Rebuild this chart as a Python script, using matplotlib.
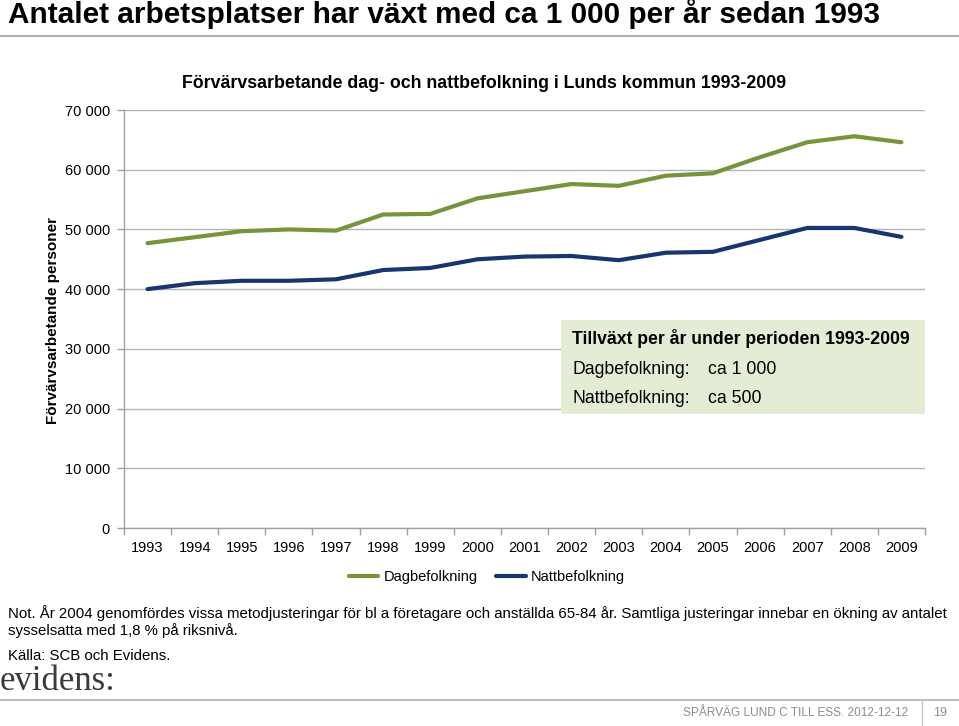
import matplotlib
matplotlib.use("Agg")
import matplotlib.pyplot as plt
import numpy as np
from matplotlib.patches import Rectangle
from matplotlib.lines import Line2D

plt.rcParams['font.family'] = ['Liberation Sans', 'DejaVu Sans']

years = [str(y) for y in range(1993, 2010)]
dagbefolkning = [47700, 48700, 49700, 50000, 49800, 52500, 52600, 55200, 56400, 57600,
                 57300, 59000, 59400, 62100, 64600, 65600, 64600]
nattbefolkning = [40000, 41000, 41400, 41400, 41650, 43200, 43550, 45000, 45450, 45550,
                  44850, 46100, 46250, 48250, 50250, 50250, 48750]
yticks = [0, 10000, 20000, 30000, 40000, 50000, 60000, 70000]

W, H = 959, 726
fig = plt.figure(figsize=(W / 100, H / 100), dpi=100)


def fx(px):
    return px / W


def fy(py):
    return 1 - py / H


# slide header
fig.text(fx(8), fy(14), "Antalet arbetsplatser har växt med ca 1 000 per år sedan 1993",
         fontsize=21.4, fontweight='bold', va='center', ha='left')
fig.add_artist(Line2D([0, 1], [fy(36), fy(36)], color='#b0b0b0', lw=1.5))

ax = fig.add_axes([fx(124), fy(528), fx(925 - 124), fy(110) - fy(528)])
x = np.arange(len(years))
ax.plot(x, dagbefolkning, color='#77933C', lw=3, solid_capstyle='round', label='Dagbefolkning')
ax.plot(x, nattbefolkning, color='#16366F', lw=3, solid_capstyle='round', label='Nattbefolkning')

ax.set_xlim(-0.5, len(years) - 0.5)
ax.set_ylim(0, 70000)
ax.set_yticks(yticks)
ax.set_yticklabels([f"{v:,}".replace(",", " ") for v in yticks], fontsize=10.5)
ax.set_xticks(x)
ax.set_xticklabels(years, fontsize=10.5)
ax.set_xticks(np.arange(-0.5, len(years)), minor=True)
ax.tick_params(axis='x', which='major', length=0, pad=9)
ax.tick_params(axis='x', which='minor', length=5, color='#a0a0a0', width=1)
ax.tick_params(axis='y', length=5, color='#a0a0a0', width=1, pad=5)
ax.grid(axis='y', color='#b4b4b4', lw=1)
ax.set_axisbelow(True)
for s in ['top', 'right']:
    ax.spines[s].set_visible(False)
for s in ['left', 'bottom']:
    ax.spines[s].set_color('#a0a0a0')
    ax.spines[s].set_linewidth(1)

ax.set_title("Förvärvsarbetande dag- och nattbefolkning i Lunds kommun 1993-2009",
             fontsize=12.8, fontweight='bold', pad=15.5, x=0.449)
fig.text(fx(53), fy(320), "Förvärvsarbetande personer", rotation=90, fontsize=11,
         fontweight='bold', ha='center', va='center')

# annotation box
fig.add_artist(Rectangle((fx(561), fy(414)), fx(925 - 561), fy(320) - fy(414),
                         facecolor='#E3EDD5', edgecolor='none', zorder=5))
fig.text(fx(572), fy(339), "Tillväxt per år under perioden 1993-2009", fontsize=12.7,
         fontweight='bold', va='center', zorder=6)
fig.text(fx(572), fy(369), "Dagbefolkning:", fontsize=12.7, va='center', zorder=6)
fig.text(fx(708), fy(369), "ca 1 000", fontsize=12.7, va='center', zorder=6)
fig.text(fx(572), fy(399), "Nattbefolkning:", fontsize=12.7, va='center', zorder=6)
fig.text(fx(708), fy(399), "ca 500", fontsize=12.7, va='center', zorder=6)

ax.legend(loc='center', bbox_to_anchor=(fx(487), fy(577)), bbox_transform=fig.transFigure,
          ncol=2, frameon=False, fontsize=10.5, handlelength=2.0, columnspacing=1.3,
          handletextpad=0.35)

# notes
fig.text(fx(8), fy(613), "Not. År 2004 genomfördes vissa metodjusteringar för bl a företagare och "
         "anställda 65-84 år. Samtliga justeringar innebar en ökning av antalet",
         fontsize=10.8, va='center')
fig.text(fx(8), fy(631), "sysselsatta med 1,8 % på riksnivå.", fontsize=10.8, va='center')
fig.text(fx(8), fy(656), "Källa: SCB och Evidens.", fontsize=10.8, va='center')
fig.text(fx(0), fy(682), "evidens:", fontsize=25, va='center', color='#3a3a3a',
         family=['Liberation Serif', 'DejaVu Serif'])

# footer
fig.add_artist(Line2D([0, 1], [fy(700), fy(700)], color='#b0b0b0', lw=1.2))
fig.add_artist(Line2D([fx(922), fx(922)], [fy(700), fy(726)], color='#c8c8c8', lw=1))
fig.text(fx(908), fy(713), "SPÅRVÄG LUND C TILL ESS. 2012-12-12", fontsize=8.6,
         color='#8c8c8c', ha='right', va='center')
fig.text(fx(940), fy(713), "19", fontsize=9, color='#8c8c8c', ha='center', va='center')

fig.savefig("out.png", dpi=100)
